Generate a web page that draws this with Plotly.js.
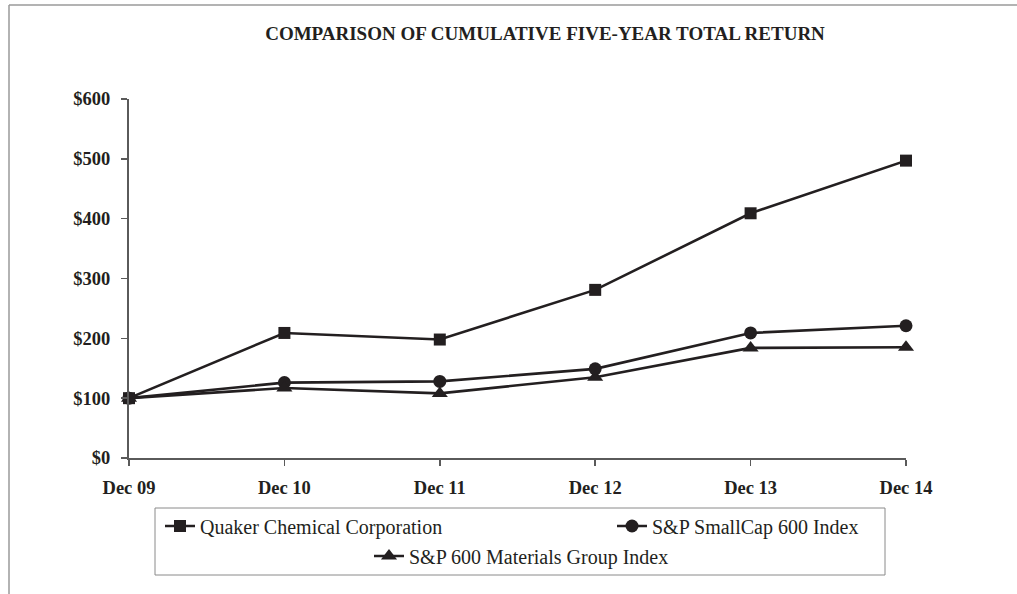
<!DOCTYPE html>
<html>
<head>
<meta charset="utf-8">
<script src="https://cdn.plot.ly/plotly-3.0.1.min.js"></script>
<style>
  html, body { margin: 0; padding: 0; background: #fff; }
  #chart { width: 1017px; height: 594px; }
</style>
</head>
<body>
<div id="chart"></div>
<script>
// ---- data ----
const categories = ["Dec 09", "Dec 10", "Dec 11", "Dec 12", "Dec 13", "Dec 14"];
const quaker = [100, 209, 198, 281, 409, 497];
const smallCap600 = [100, 126, 128, 149, 209, 221];
const materials600 = [100, 117, 108, 135, 184, 185];
const seriesNames = ["Quaker Chemical Corporation", "S&P SmallCap 600 Index", "S&P 600 Materials Group Index"];
const yTickVals = [0, 100, 200, 300, 400, 500, 600];
const yTickText = ["$0", "$100", "$200", "$300", "$400", "$500", "$600"];
const titleText = "COMPARISON OF CUMULATIVE FIVE-YEAR TOTAL RETURN";

const xIdx = categories.map((_, i) => i);
const ink = "#231f20";
const serif = "Liberation Serif";

function mk(name, y, symbol, size, legendId) {
  return {
    type: "scatter", mode: "lines+markers", name: name,
    x: xIdx, y: y, cliponaxis: false, legend: legendId,
    line: { color: ink, width: 2.6 },
    marker: { symbol: symbol, size: size, color: ink, line: { width: 0 } }
  };
}

const traces = [
  mk(seriesNames[0], quaker, "square", 12, "legend"),
  mk(seriesNames[1], smallCap600, "circle", 13, "legend2"),
  mk(seriesNames[2], materials600, "triangle-up", 14, "legend3")
];

const W = 1017, H = 594;
function leg(xpx, ypx) {
  return {
    xref: "container", yref: "container",
    x: xpx / W, y: 1 - ypx / H, xanchor: "left", yanchor: "middle",
    orientation: "h", bgcolor: "rgba(0,0,0,0)", borderwidth: 0,
    font: { family: serif, size: 20, color: ink },
    itemclick: false, itemdoubleclick: false
  };
}

// plot area: x 129..906, y 99..458
const pl = 129, pr = 906, pt = 99, pb = 458;
const px2paperX = p => (p - pl) / (pr - pl);
const px2paperY = p => (pb - p) / (pb - pt);

const layout = {
  width: W, height: H,
  margin: { l: pl, r: W - pr, t: pt, b: H - pb },
  paper_bgcolor: "#fff", plot_bgcolor: "#fff",
  font: { family: serif, color: ink, size: 20 },
  title: {
    text: "<b>" + titleText + "</b>",
    font: { family: serif, size: 19, color: ink },
    xref: "container", yref: "container",
    x: 545 / W, xanchor: "center", y: 1 - 33 / H, yanchor: "middle"
  },
  xaxis: {
    range: [0, 5], tickvals: xIdx, ticktext: categories.map(c => "<b>" + c + "</b>"),
    showgrid: false, zeroline: false, showline: true,
    linecolor: "#5a5a5a", linewidth: 2,
    ticks: "outside", ticklen: 6, tickcolor: "#5a5a5a", tickwidth: 1.5,
    tickfont: { family: serif, size: 18.5, color: ink },
    ticklabelstandoff: 6, fixedrange: true
  },
  yaxis: {
    range: [0, 600], tickvals: yTickVals, ticktext: yTickText.map(t => "<b>" + t + "</b>"),
    showgrid: false, zeroline: false, showline: true,
    linecolor: "#5a5a5a", linewidth: 2,
    ticks: "outside", ticklen: 6, tickcolor: "#5a5a5a", tickwidth: 1.5,
    tickfont: { family: serif, size: 18.5, color: ink },
    ticklabelstandoff: 7, fixedrange: true
  },
  showlegend: true,
  legend: leg(160, 526),
  legend2: leg(612, 526),
  legend3: leg(369, 556),
  shapes: [
    { type: "rect", xref: "paper", yref: "paper",
      x0: px2paperX(155), x1: px2paperX(885), y0: px2paperY(575), y1: px2paperY(508),
      line: { color: "#8a8a8a", width: 1 }, fillcolor: "rgba(0,0,0,0)" },
    { type: "line", xref: "paper", yref: "paper",
      x0: px2paperX(9), x1: px2paperX(1017), y0: px2paperY(5), y1: px2paperY(5),
      line: { color: "#9a9a9a", width: 1.5 } },
    { type: "line", xref: "paper", yref: "paper",
      x0: px2paperX(9), x1: px2paperX(9), y0: px2paperY(5), y1: px2paperY(594),
      line: { color: "#9a9a9a", width: 1.5 } }
  ]
};

Plotly.newPlot("chart", traces, layout, { displayModeBar: false, staticPlot: true });
</script>
</body>
</html>
